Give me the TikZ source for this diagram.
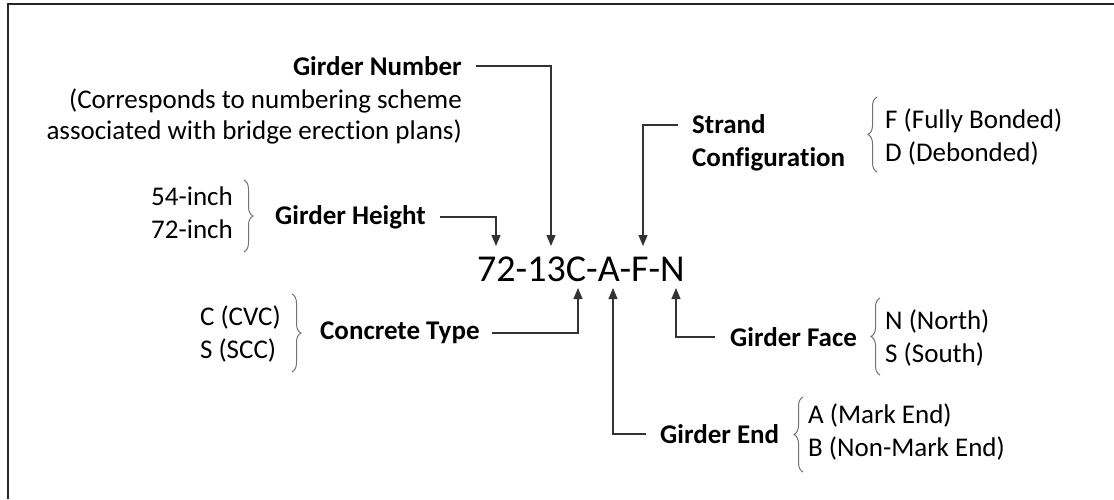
\documentclass[tikz,border=0pt]{standalone}
\usepackage{fontspec}
\setmainfont{Carlito}[RawFeature={-liga;-clig;-dlig;-calt;-rlig}]
\usetikzlibrary{arrows.meta,positioning,decorations.pathreplacing,calc}

\begin{document}
\begin{tikzpicture}[
  x=1pt, y=-1pt,
  every node/.style={font=\fontsize{27}{33}\selectfont, inner sep=0pt},
  lbl/.style={font=\fontsize{27}{33}\selectfont\bfseries},
  opts/.style={align=left},
  arr/.style={-{Triangle[length=11pt,width=9pt]}, line width=1.2pt, draw=black!80},
  brc/.style={decorate, decoration={brace, amplitude=9pt}, line width=1pt, draw=black!55}
]
  \useasboundingbox (0,0) rectangle (1114,499);
  % frame
  \draw[line width=2.5pt, black!85] (8,499) -- (8,4) -- (1114,4);

  % the mark
  \node[font=\fontsize{38}{40}\selectfont, anchor=west] (code) at (477,269) {72-13C-A-F-N};
  \coordinate (tipH) at (496,246);
  \coordinate (tipN) at (551,246);
  \coordinate (tipF) at (643,246);
  \coordinate (tipC) at (578,288);
  \coordinate (tipA) at (613,288);
  \coordinate (tipG) at (676,288);

  % labels
  \node[lbl, anchor=east] (num) at (462,66) {Girder Number};
  \node[align=right, anchor=east, font=\fontsize{27}{31}\selectfont] (numtxt) at (462,116)
    {(Corresponds to numbering scheme\\associated with bridge erection plans)};

  \node[opts, anchor=east] (hgtopt) at (233,213) {54-inch\\72-inch};
  \node[lbl, anchor=west] (hgt) at (275,217) {Girder Height};

  \node[lbl, align=left, anchor=west] (strand) at (692,143) {Strand\\Configura\kern0pt tion};
  \coordinate (strIn) at (678,125);
  \node[opts, anchor=west] (strandopt) at (885,137) {F (Fully Bonded)\\D (Debonded)};

  \node[opts, anchor=east] (concopt) at (281,334) {C (CVC)\\S (SCC)};
  \node[lbl, anchor=west] (conc) at (320,333) {Concrete Type};

  \node[lbl, anchor=west] (face) at (730,337) {Girder Face};
  \node[opts, anchor=west] (faceopt) at (885,338) {N (North)\\S (South)};

  \node[lbl, anchor=west] (gend) at (660,434) {Girder End};
  \node[opts, anchor=west] (gendopt) at (808,432) {A (Mark End)\\B (Non-Mark End)};

  % braces
  \draw[brc] (244,180) -- (244,252);
  \draw[brc] (292,294) -- (292,372);
  \draw[brc] (877,172) -- (877,97);
  \draw[brc] (880,375) -- (880,298);
  \draw[brc] (803,472) -- (803,397);

  % leaders
  \draw[arr] ([xshift=14pt]num.east) -| (tipN);
  \draw[arr] ([xshift=14pt]hgt.east) -| (tipH);
  \draw[arr] (strIn) -| (tipF);
  \draw[arr] ([xshift=12pt]conc.east) -| (tipC);
  \draw[arr] ([xshift=-14pt]gend.west) -| (tipA);
  \draw[arr] ([xshift=-15pt]face.west) -| (tipG);
\end{tikzpicture}
\end{document}
